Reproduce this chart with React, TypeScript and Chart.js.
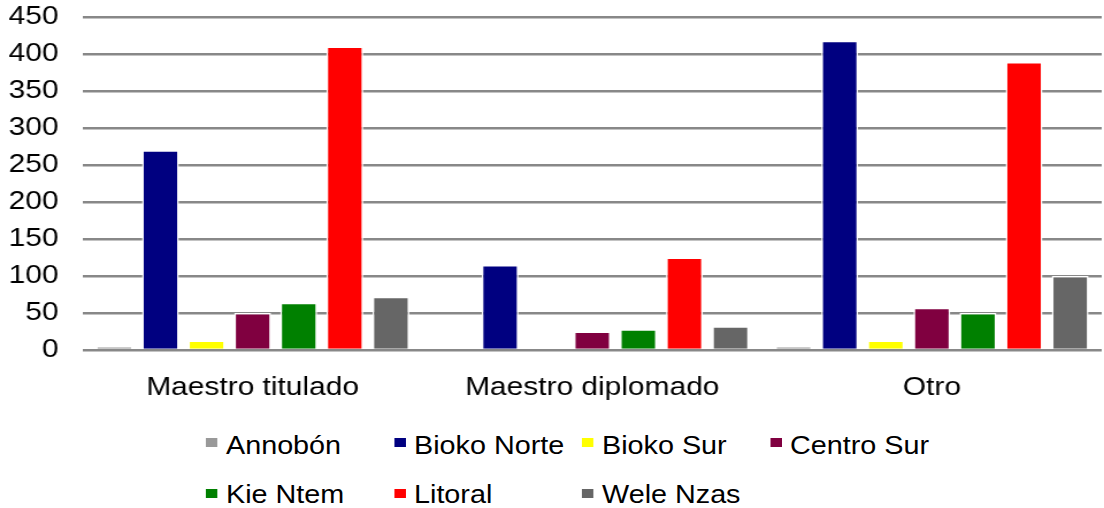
import React, { useEffect, useRef } from 'react';
import { Chart, registerables } from 'chart.js';

Chart.register(...registerables);

// ---- data ----
const categories = ['Maestro titulado', 'Maestro diplomado', 'Otro'];
const seriesNames = ['Annobón', 'Bioko Norte', 'Bioko Sur', 'Centro Sur', 'Kie Ntem', 'Litoral', 'Wele Nzas'];
const annobon = [5, 0, 5];
const biokoNorte = [270, 115, 418];
const biokoSur = [13, 0, 13];
const centroSur = [50, 25, 57];
const kieNtem = [64, 28, 50];
const litoral = [410, 125, 389];
const weleNzas = [72, 32, 100];
const seriesValues = [annobon, biokoNorte, biokoSur, centroSur, kieNtem, litoral, weleNzas];
const seriesColors = ['#999999', '#000080', '#FFFF00', '#800040', '#008000', '#FF0000', '#666666'];
const yMin = 0;
const yMax = 450;
const yStep = 50;

const STRETCH = 1.15;
const W = 960;
const CANVAS_H = 420;
const FONT = "'Liberation Sans', Arial, sans-serif";

export default function App() {
  const canvasRef = useRef<HTMLCanvasElement | null>(null);

  useEffect(() => {
    const canvas = canvasRef.current;
    if (!canvas) return;
    const chart = new Chart(canvas, {
      type: 'bar',
      data: {
        labels: categories,
        datasets: seriesNames.map((name, i) => ({
          label: name,
          data: seriesValues[i],
          backgroundColor: seriesColors[i],
          borderColor: '#ffffff',
          borderWidth: { top: 1.5, left: 1.5, right: 1.5, bottom: 0 },
          borderSkipped: false,
          categoryPercentage: 0.95,
          barPercentage: 0.8,
        })),
      },
      options: {
        responsive: false,
        animation: false,
        devicePixelRatio: 1,
        layout: { padding: { top: 0, right: 2, left: 0, bottom: 0 } },
        plugins: {
          legend: { display: false },
          tooltip: { enabled: false },
        },
        scales: {
          x: {
            grid: { display: false },
            border: { display: false },
            ticks: {
              color: '#000000',
              padding: 14,
              font: { family: FONT, size: 26 },
            },
            afterFit: (scale: any) => {
              scale.height = 70;
            },
          },
          y: {
            min: yMin,
            max: yMax,
            border: { display: false },
            grid: {
              color: '#888888',
              lineWidth: 2.5,
              drawTicks: true,
              tickLength: 19,
              tickColor: 'rgba(0,0,0,0)',
            },
            ticks: {
              stepSize: yStep,
              color: '#000000',
              padding: 2,
              font: { family: FONT, size: 26, lineHeight: 1.15 },
            },
            afterFit: (scale: any) => {
              scale.width = 72;
            },
          },
        },
      },
    });
    return () => {
      chart.destroy();
    };
  }, []);

  const colPitch = 163.5;
  const sqLeft = 179;
  const textLeft = 196.5;
  const rowSquareTop = [438, 489];
  const rowTextTop = [433, 482];

  return (
    <div
      style={{
        position: 'absolute',
        left: 0,
        top: 0,
        width: W,
        height: 508,
        transform: `scaleX(${STRETCH})`,
        transformOrigin: '0 0',
        background: '#ffffff',
        overflow: 'hidden',
      }}
    >
      <canvas
        ref={canvasRef}
        width={W}
        height={CANVAS_H}
        style={{ display: 'block', width: W, height: CANVAS_H }}
      />
      {seriesNames.map((name, i) => {
        const row = Math.floor(i / 4);
        const col = i % 4;
        return (
          <React.Fragment key={name}>
            <div
              style={{
                position: 'absolute',
                left: sqLeft + col * colPitch,
                top: rowSquareTop[row],
                width: 10.4,
                height: 9,
                background: seriesColors[i],
              }}
            />
            <div
              style={{
                position: 'absolute',
                left: textLeft + col * colPitch,
                top: rowTextTop[row],
                fontFamily: FONT,
                fontSize: 25,
                lineHeight: '25px',
                color: '#000000',
                whiteSpace: 'nowrap',
              }}
            >
              {name}
            </div>
          </React.Fragment>
        );
      })}
    </div>
  );
}
